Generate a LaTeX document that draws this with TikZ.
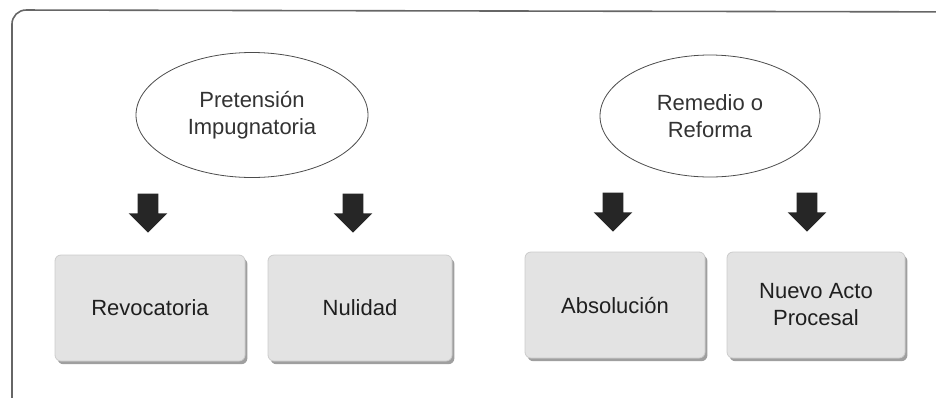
\documentclass[tikz,border=0pt]{standalone}
\usepackage{fontspec}
\setmainfont{Liberation Sans}
\usetikzlibrary{shapes.geometric,shapes.arrows,shadows}
\begin{document}
\begin{tikzpicture}[x=0.5pt,y=-0.5pt,
    idea/.style={ellipse,draw=black!70,thin,fill=white,align=center,inner sep=0pt,
      font=\fontsize{11}{13.5}\selectfont,text=black!80},
    result/.style={rectangle,rounded corners=3pt,fill=black!11,draw=black!20,align=center,
      minimum width=92pt,minimum height=53pt,font=\fontsize{11}{13.5}\selectfont,text=black!88,
      drop shadow={shadow xshift=1.2pt,shadow yshift=-1.6pt,fill=black!75,opacity=0.5}},
    fatarrow/.style={single arrow,fill=black!85,draw=none,rotate=-90,inner xsep=0pt,inner ysep=5pt,
      minimum height=19.5pt,minimum width=19pt,single arrow head extend=4.5pt}]
      \useasboundingbox (0,0) rectangle (936,397);
      \begin{scope}
        \clip (0,0) rectangle (936,397);
        \draw [black!60,line width=0.8pt,rounded corners=7pt] (12,460) -- (12,10) -- (1000,12);
      \end{scope}

        \node[idea,minimum width=116pt,minimum height=62.5pt] (pi) at (252,115) {Pretensión\\Impugnatoria};
        \node[idea,minimum width=110pt,minimum height=61pt] (rr) at (710,116) {Remedio o\\Reforma};

        \node[fatarrow] (a1) at (148,208) {};
        \node[fatarrow] (a2) at (353,208) {};
        \node[fatarrow] (a3) at (613,207) {};
        \node[fatarrow] (a4) at (807,207) {};

        \node[result,minimum width=95pt] (rev) at (150,308) {Revocatoria};
        \node[result] (nul) at (360,308) {Nulidad};
        \node[result,minimum width=90pt] (abs) at (615,305) {Absolución};
        \node[result,minimum width=89pt] (nue) at (816,305) {Nuevo Acto\\Procesal};

\end{tikzpicture}
\end{document}
